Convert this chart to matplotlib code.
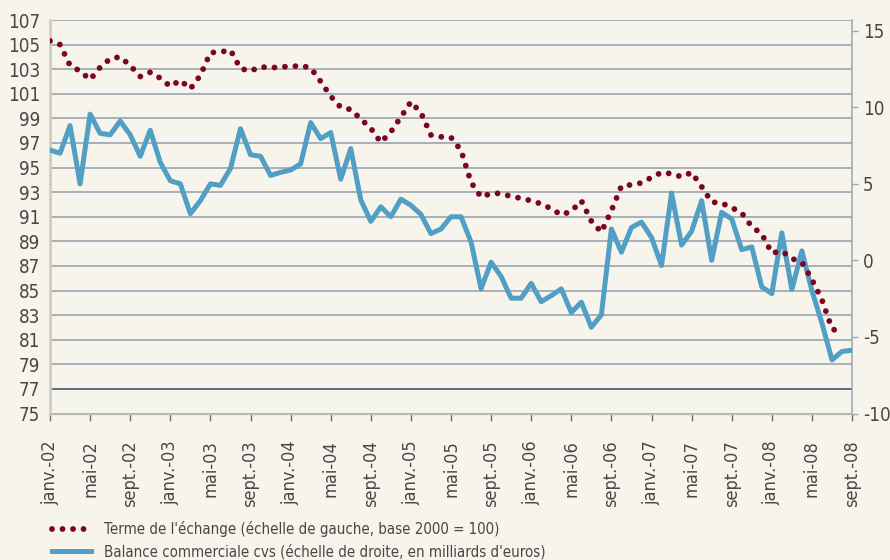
"""
terme de l'échange vs balance commerciale, janv. 2002 - sept. 2008
"""

import matplotlib
matplotlib.use("Agg")
import matplotlib.pyplot as plt
from matplotlib import font_manager
from matplotlib.lines import Line2D
from matplotlib.ticker import FuncFormatter
import numpy as np

# monthly values, janv.-02 (index 0) to sept.-08 (index 80)
terme_echange = [
    105.3, 105.0, 103.3, 102.85, 102.15, 103.15, 103.85, 104.0, 103.3, 102.4,
    102.75, 102.27, 101.6, 102.1, 101.4, 102.5, 104.35, 104.4, 104.55, 103.05,
    102.85, 103.2, 103.1, 103.2, 103.2, 103.3, 103.1, 102.0, 100.8, 99.9,
    99.72, 98.95, 98.2, 97.05, 97.9, 99.1, 100.35, 99.45, 97.65, 97.5,
    97.45, 96.4, 93.8, 92.6, 92.9, 92.9, 92.65, 92.5, 92.3, 92.05,
    91.65, 91.15, 91.45, 92.3, 90.65, 89.75, 91.5, 93.5, 93.6, 93.75,
    94.2, 94.6, 94.5, 94.25, 94.6, 93.45, 92.2, 92.1, 91.75, 91.3,
    90.2, 89.6, 88.05, 88.2, 87.6, 87.3, 85.9, 84.25, 81.9, 81.5,
    np.nan,
]
balance_commerciale = [
    7.2, 7.0, 8.8, 5.0, 9.55, 8.3, 8.2, 9.1, 8.2, 6.8,
    8.5, 6.4, 5.2, 5.0, 3.05, 3.9, 5.0, 4.9, 6.0, 8.6,
    6.9, 6.8, 5.55, 5.75, 5.9, 6.3, 9.0, 7.95, 8.35, 5.3,
    7.3, 3.95, 2.55, 3.5, 2.85, 4.0, 3.6, 3.0, 1.75, 2.05,
    2.85, 2.85, 1.2, -1.85, -0.12, -1.05, -2.47, -2.47, -1.5, -2.7,
    -2.3, -1.86, -3.4, -2.73, -4.37, -3.55, 2.05, 0.53, 2.15, 2.5,
    1.5, -0.34, 4.4, 1.0, 1.9, 3.9, 0.0, 3.14, 2.7, 0.7,
    0.88, -1.73, -2.17, 1.8, -1.9, 0.62, -1.97, -4.1, -6.5, -5.95,
    -5.87,
]
tick_labels = [
    "janv.-02", "mai-02", "sept.-02", "janv.-03", "mai-03", "sept.-03",
    "janv.-04", "mai-04", "sept.-04", "janv.-05", "mai-05", "sept.-05",
    "janv.-06", "mai-06", "sept.-06", "janv.-07", "mai-07", "sept.-07",
    "janv.-08", "mai-08", "sept.-08",
]
label_terme = "Terme de l'échange (échelle de gauche, base 2000 = 100)"
label_balance = "Balance commerciale cvs (échelle de droite, en milliards d'euros)"

# colours
bg = "#f7f4ec"
red = "#7a0524"
blue = "#519fc4"
grid_col = "#919fa9"
text_col = "#474747"

# narrow font if we have one
names = {f.name for f in font_manager.fontManager.ttflist}
if "Liberation Sans Narrow" in names:
    plt.rcParams["font.family"] = ["Liberation Sans Narrow", "DejaVu Sans"]
    tick_size, leg_size = 15.5, 12.5
else:
    plt.rcParams["font.family"] = ["DejaVu Sans"]
    plt.rcParams["font.stretch"] = "condensed"
    tick_size, leg_size = 13.5, 10.8

dot_lw = 4.2
dots = (0, (0.001, 1.8))
x = np.arange(len(balance_commerciale))

fig = plt.figure(figsize=(8.9, 5.6), dpi=100, facecolor=bg)
ax = fig.add_axes([50 / 890, 146.5 / 560, 802 / 890, 393.5 / 560])
ax.set_facecolor(bg)
ax2 = ax.twinx()

# grid on left scale
ax.set_ylim(75, 107)
ax.set_xlim(0, 80)
ax.set_yticks(np.arange(75, 108, 2))
ax.yaxis.grid(True, color=grid_col, linewidth=1.1)
ax.set_axisbelow(True)
ax.axhline(77, color="#546a7b", linewidth=1.3, zorder=1)

ax2.set_ylim(-10, 15.7)
ax2.set_yticks([-10, -5, 0, 5, 10, 15])
ax2.yaxis.set_major_formatter(FuncFormatter(lambda v, p: f"{int(round(v))}"))

# lines: blue on right scale, red dots on left scale but drawn above the blue
ax2.plot(x, balance_commerciale, color=blue, linewidth=3.6, zorder=3)
ax2.plot(x, terme_echange, color=red, linewidth=dot_lw, linestyle=dots,
         dash_capstyle="round", zorder=4, transform=ax.transData)
ax2.set_ylim(-10, 15.7)

# spines
ax.spines["top"].set_visible(False)
ax2.spines["top"].set_visible(False)
ax.spines["left"].set_color("#cfcdc4")
ax.spines["left"].set_linewidth(2.0)
ax.spines["right"].set_visible(False)
ax2.spines["left"].set_visible(False)
ax2.spines["bottom"].set_visible(False)
ax.spines["bottom"].set_color("#b8c0c4")
ax.spines["bottom"].set_linewidth(1.0)
ax2.spines["right"].set_color("#9aa7b0")
ax2.spines["right"].set_linewidth(1.1)

# ticks
ax.set_xticks(np.arange(0, 81, 4))
ax.set_xticklabels(tick_labels, rotation=90, va="top", ha="center")
ax.tick_params(axis="x", length=5, width=1, color="#5d7282", pad=14,
               labelsize=tick_size - 0.5, labelcolor=text_col)
ax.tick_params(axis="y", length=0, pad=7, labelsize=tick_size, labelcolor=text_col)
ax2.tick_params(axis="y", length=4, width=1, color="#9aa7b0", pad=4,
                labelsize=tick_size, labelcolor=text_col)

# legend
h1 = Line2D([], [], color=red, linewidth=dot_lw, linestyle=dots, dash_capstyle="round")
h2 = Line2D([], [], color=blue, linewidth=3.6)
leg = fig.legend([h1, h2], [label_terme, label_balance], loc="upper left",
                 bbox_to_anchor=(52 / 890, 1 - 521 / 560), frameon=False,
                 borderpad=0, borderaxespad=0, handlelength=2.6, handletextpad=0.85,
                 labelspacing=0.45, fontsize=leg_size)
for t in leg.get_texts():
    t.set_color(text_col)

fig.savefig("out.png", dpi=100, facecolor=bg)
